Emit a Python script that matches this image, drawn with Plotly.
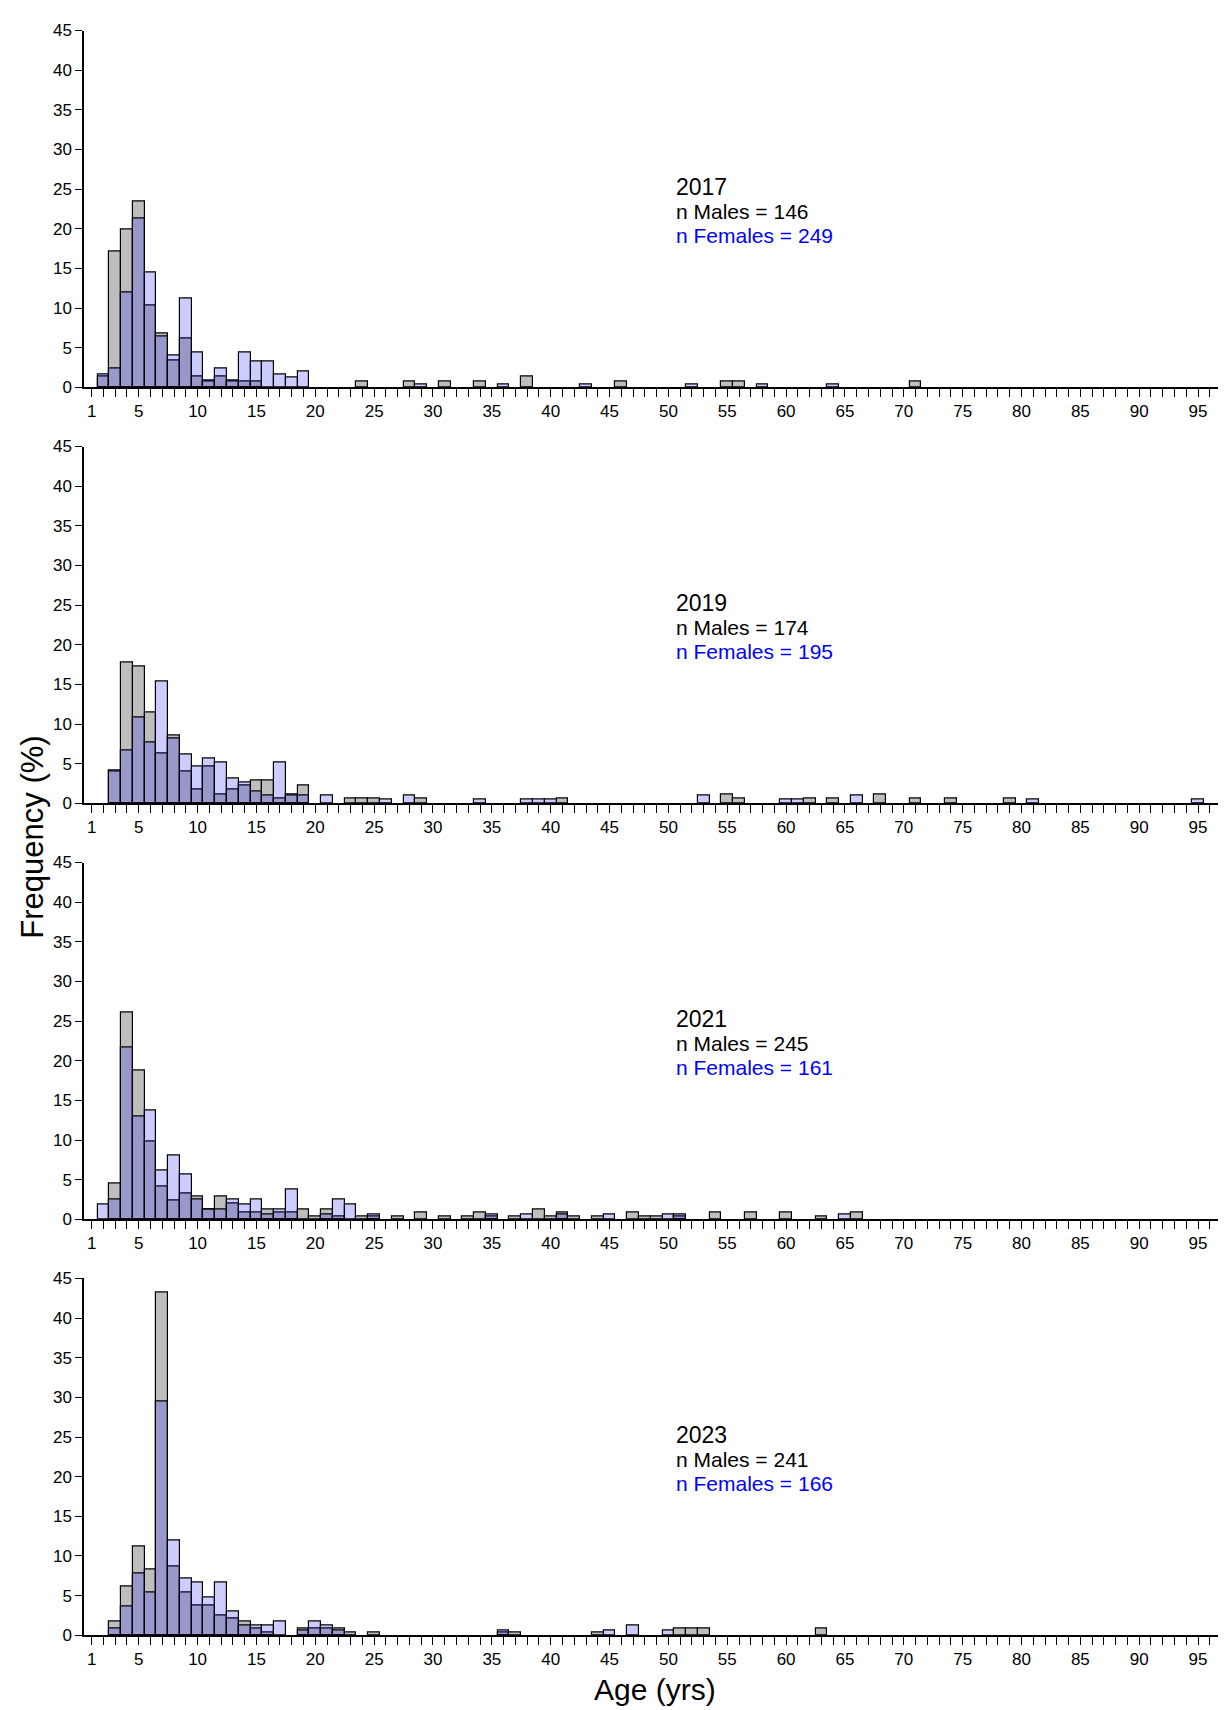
import plotly.graph_objects as go

years = ["2017", "2019", "2021", "2023"]
n_males = [146, 174, 245, 241]
n_females = [249, 195, 161, 166]

# age: percent
males = [
    {2: 1.4, 3: 17.1, 4: 19.9, 5: 23.4, 6: 10.3, 7: 6.8, 8: 3.4, 9: 6.2, 10: 1.4, 11: 0.7,
     12: 1.4, 13: 0.7, 14: 0.7, 15: 0.7, 24: 0.7, 28: 0.7, 31: 0.7, 34: 0.7, 38: 1.4,
     46: 0.7, 55: 0.7, 56: 0.7, 71: 0.7},
    {3: 4.0, 4: 17.8, 5: 17.2, 6: 11.5, 7: 6.3, 8: 8.6, 9: 4.0, 10: 1.7, 11: 4.6, 12: 1.1,
     13: 1.7, 14: 2.3, 15: 2.9, 16: 2.9, 17: 0.6, 18: 1.1, 19: 2.3, 23: 0.6, 24: 0.6,
     25: 0.6, 29: 0.6, 41: 0.6, 55: 1.1, 56: 0.6, 62: 0.6, 64: 0.6, 68: 1.1, 71: 0.6,
     74: 0.6, 79: 0.6},
    {3: 4.5, 4: 26.1, 5: 18.8, 6: 9.8, 7: 4.1, 8: 2.4, 9: 3.3, 10: 2.9, 11: 1.2, 12: 2.9,
     13: 2.0, 14: 0.8, 15: 0.8, 16: 1.2, 17: 0.8, 18: 0.8, 19: 1.2, 20: 0.4, 21: 1.2,
     22: 0.4, 24: 0.4, 25: 0.4, 27: 0.4, 29: 0.8, 31: 0.4, 33: 0.4, 34: 0.8, 35: 0.4,
     37: 0.4, 39: 1.2, 40: 0.4, 41: 0.8, 42: 0.4, 44: 0.4, 47: 0.8, 48: 0.4, 49: 0.4,
     51: 0.4, 54: 0.8, 57: 0.8, 60: 0.8, 63: 0.4, 66: 0.8},
    {3: 1.7, 4: 6.2, 5: 11.2, 6: 8.3, 7: 43.2, 8: 8.7, 9: 5.4, 10: 3.7, 11: 3.7, 12: 2.5,
     13: 2.1, 14: 1.7, 15: 0.8, 16: 0.4, 19: 0.8, 20: 0.8, 21: 0.8, 22: 0.8, 23: 0.4,
     25: 0.4, 36: 0.4, 37: 0.4, 44: 0.4, 51: 0.8, 52: 0.8, 53: 0.8, 63: 0.8},
]
females = [
    {2: 1.6, 3: 2.4, 4: 12.0, 5: 21.3, 6: 14.5, 7: 6.4, 8: 4.0, 9: 11.2, 10: 4.4, 11: 0.8,
     12: 2.4, 13: 0.8, 14: 4.4, 15: 3.2, 16: 3.2, 17: 1.6, 18: 1.2, 19: 2.0, 29: 0.4,
     36: 0.4, 43: 0.4, 52: 0.4, 58: 0.4, 64: 0.4},
    {3: 4.1, 4: 6.7, 5: 10.8, 6: 7.7, 7: 15.4, 8: 8.2, 9: 6.2, 10: 4.6, 11: 5.6, 12: 5.1,
     13: 3.1, 14: 2.6, 15: 1.5, 16: 1.0, 17: 5.1, 18: 1.0, 19: 1.0, 21: 1.0, 26: 0.5,
     28: 1.0, 34: 0.5, 38: 0.5, 39: 0.5, 40: 0.5, 53: 1.0, 60: 0.5, 61: 0.5, 66: 1.0,
     81: 0.5, 95: 0.5},
    {2: 1.9, 3: 2.5, 4: 21.7, 5: 13.0, 6: 13.7, 7: 6.2, 8: 8.1, 9: 5.6, 10: 2.5, 11: 1.2,
     12: 1.2, 13: 2.5, 14: 1.9, 15: 2.5, 16: 0.6, 17: 1.2, 18: 3.7, 21: 0.6, 22: 2.5,
     23: 1.9, 25: 0.6, 35: 0.6, 38: 0.6, 41: 0.6, 45: 0.6, 50: 0.6, 51: 0.6, 65: 0.6},
    {3: 0.9, 4: 3.6, 5: 7.8, 6: 5.4, 7: 29.5, 8: 12.0, 9: 7.2, 10: 6.6, 11: 4.8, 12: 6.6,
     13: 3.0, 14: 1.2, 15: 1.2, 16: 1.2, 17: 1.8, 19: 0.6, 20: 1.8, 21: 1.2, 22: 0.6,
     36: 0.6, 45: 0.6, 47: 1.2, 50: 0.6},
]

tick_ages = [1] + list(range(5, 100, 5))

fig = go.Figure()
y_domains = [(0.781, 0.992), (0.535, 0.746), (0.289, 0.500), (0.043, 0.254)]
font = "Liberation Sans, Arial, sans-serif"

for i, year in enumerate(years):
    xa = "x" if i == 0 else f"x{i + 1}"
    ya = "y" if i == 0 else f"y{i + 1}"
    m, f = males[i], females[i]
    fig.add_trace(go.Bar(x=list(m.keys()), y=list(m.values()), width=1,
                         marker=dict(color="rgb(190,190,190)", line=dict(color="black", width=1.2)),
                         xaxis=xa, yaxis=ya, showlegend=False))
    fig.add_trace(go.Bar(x=list(f.keys()), y=list(f.values()), width=1,
                         marker=dict(color="rgba(0,0,255,0.2)", line=dict(color="black", width=1.2)),
                         xaxis=xa, yaxis=ya, showlegend=False))
    lo, hi = y_domains[i]
    fig.layout[f"xaxis{i + 1 if i else ''}"] = dict(
        domain=[0.062, 0.987], range=[0.35, 96.7], anchor=ya,
        tickvals=tick_ages, ticktext=[str(t) for t in tick_ages],
        ticks="outside", ticklen=8, tickcolor="black", showgrid=False, zeroline=False,
        showline=True, linecolor="black", linewidth=1.5,
        minor=dict(dtick=1, tick0=0, ticks="outside", ticklen=8, tickcolor="black", showgrid=False),
        tickfont=dict(size=17, color="black", family=font))
    fig.layout[f"yaxis{i + 1 if i else ''}"] = dict(
        domain=[lo, hi], range=[0, 45], dtick=5, anchor=xa,
        ticks="outside", ticklen=7, tickcolor="black", showgrid=False, zeroline=False,
        showline=True, linecolor="black", linewidth=1.5,
        tickfont=dict(size=17, color="black", family=font))
    for txt, yv, col in [(year, 25.3, "black"), (f"n Males = {n_males[i]}", 22.2, "black"),
                         (f"n Females = {n_females[i]}", 19.1, "blue")]:
        fig.add_annotation(x=50.5, y=yv, xref=xa, yref=ya, text=txt, showarrow=False,
                           xanchor="left", font=dict(size=23 if txt == year else 21, color=col, family=font))

fig.add_annotation(x=0.528, y=0.0, xref="paper", yref="paper", yanchor="bottom", xanchor="center",
                   text="Age (yrs)", showarrow=False, font=dict(size=30, color="black", family=font))
fig.add_annotation(x=0.02, y=0.515, xref="paper", yref="paper", textangle=-90,
                   xanchor="center", yanchor="middle",
                   text="Frequency (%)", showarrow=False, font=dict(size=31, color="black", family=font))

fig.update_layout(width=1226, height=1710, barmode="overlay", bargap=0,
                  plot_bgcolor="white", paper_bgcolor="white",
                  margin=dict(l=0, r=0, t=0, b=0))
fig.write_html("out.html")
